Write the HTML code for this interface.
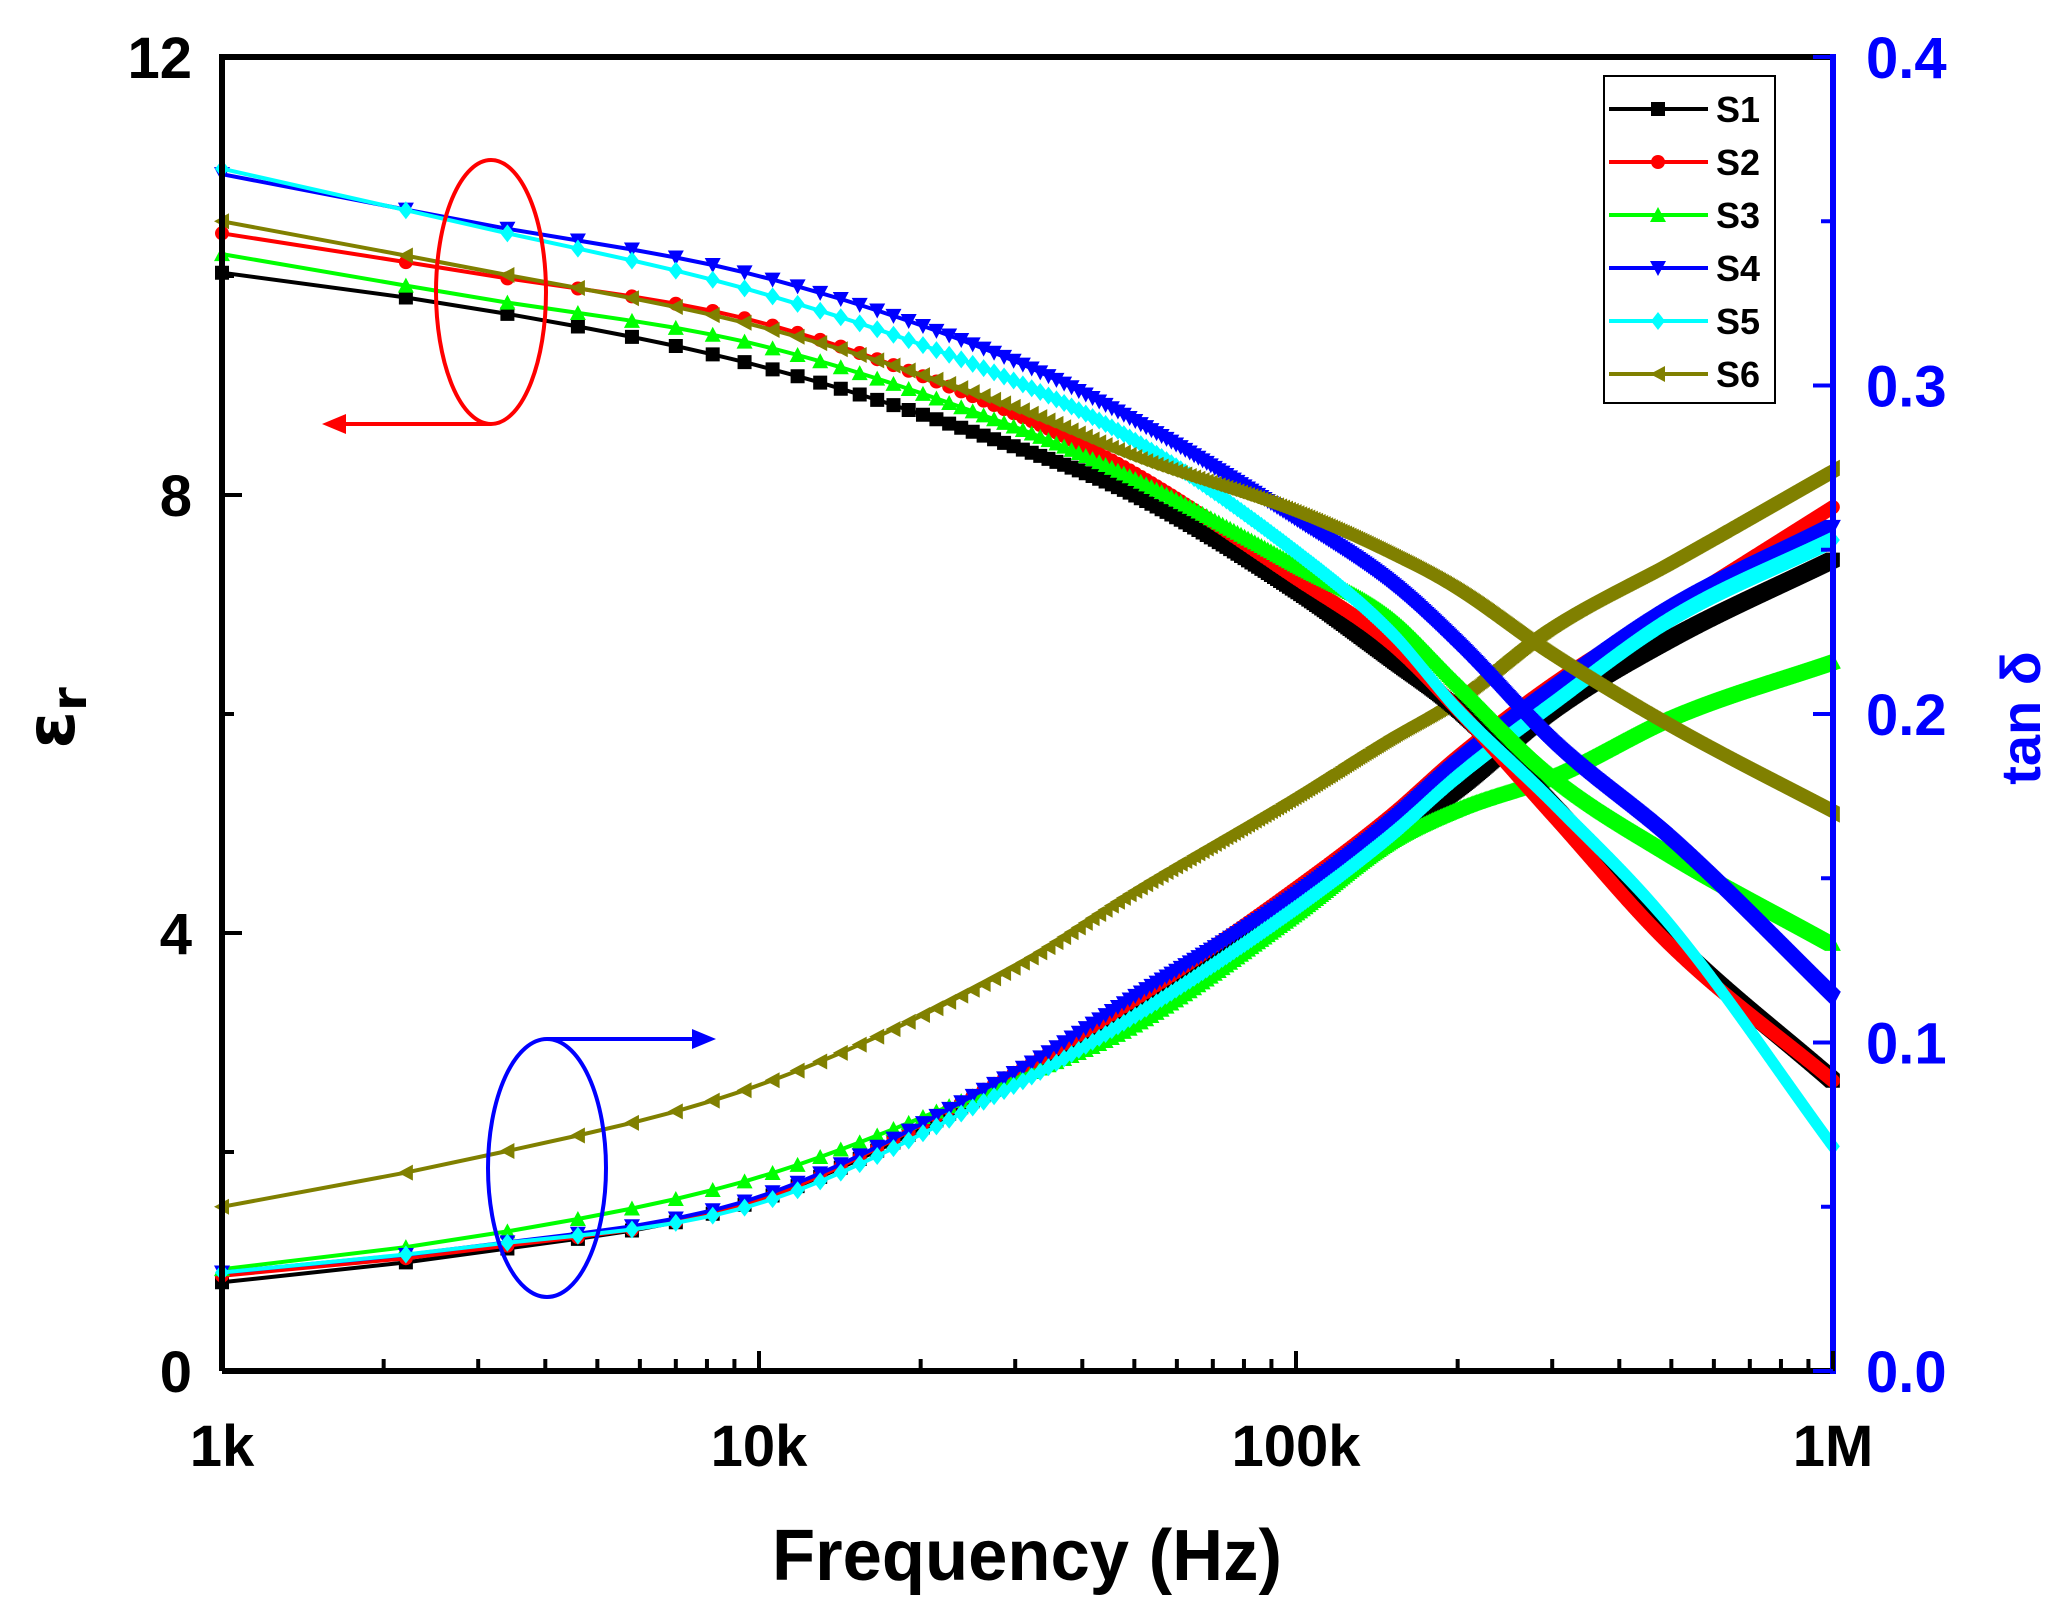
<!DOCTYPE html>
<html><head><meta charset="utf-8"><style>
html,body{margin:0;padding:0;background:#fff;}
svg{display:block;font-family:"Liberation Sans",Arial,sans-serif;font-weight:bold;}
</style></head><body>
<svg id="chart" width="2059" height="1615" viewBox="0 0 2059 1615" xmlns="http://www.w3.org/2000/svg">
<g id="series"></g>
<g id="axes"></g>
<g id="legend"></g>
<g>
 <ellipse cx="491" cy="292" rx="55" ry="132" fill="none" stroke="#f00" stroke-width="4"/>
 <polyline points="491,424 340,424" fill="none" stroke="#f00" stroke-width="4"/>
 <polygon points="322,424 346,414 346,434" fill="#f00"/>
 <ellipse cx="547" cy="1168" rx="59" ry="129" fill="none" stroke="#00f" stroke-width="4"/>
 <polyline points="547,1039 698,1039" fill="none" stroke="#00f" stroke-width="4"/>
 <polygon points="716,1039 692,1029 692,1049" fill="#00f"/>
</g>
<text x="1027" y="1580" font-size="72" text-anchor="middle" textLength="510" lengthAdjust="spacingAndGlyphs">Frequency (Hz)</text>
<text transform="translate(74,718) rotate(-90)" font-size="68" text-anchor="middle" font-family="'DejaVu Sans',sans-serif">ε<tspan font-size="48" dy="12">r</tspan></text>
<text transform="translate(2040,718) rotate(-90)" font-size="56" text-anchor="middle" fill="#00f">tan δ</text>
</svg>
<script>
const freqs = [1e3, 3e3, 1e4, 3e4, 5e4, 1e5, 1.5e5, 2e5, 3e5, 5e5, 1e6];
const epsS1 = [10.03, 9.7, 9.18, 8.44, 8.0, 7.12, 6.5, 6.04, 5.17, 3.94, 2.65];
const epsS2 = [10.39, 10.02, 9.58, 8.74, 8.2, 7.24, 6.65, 6.04, 5.08, 3.88, 2.65];
const epsS3 = [10.2, 9.8, 9.37, 8.62, 8.15, 7.36, 6.88, 6.28, 5.44, 4.72, 3.9];
const epsS4 = [10.93, 10.48, 10.0, 9.22, 8.68, 7.78, 7.2, 6.64, 5.74, 4.84, 3.4];
const epsS5 = [10.98, 10.45, 9.85, 9.04, 8.5, 7.48, 6.75, 6.04, 5.2, 4.06, 2.05];
const epsS6 = [10.5, 10.06, 9.54, 8.8, 8.35, 7.84, 7.45, 7.12, 6.52, 5.86, 5.08];
const tanS1 = [0.027, 0.036, 0.052, 0.089, 0.11, 0.145, 0.163, 0.177, 0.201, 0.223, 0.247];
const tanS2 = [0.029, 0.037, 0.052, 0.091, 0.113, 0.147, 0.169, 0.187, 0.209, 0.232, 0.263];
const tanS3 = [0.031, 0.041, 0.059, 0.089, 0.105, 0.139, 0.161, 0.171, 0.181, 0.199, 0.216];
const tanS4 = [0.030, 0.038, 0.053, 0.091, 0.114, 0.145, 0.167, 0.185, 0.207, 0.232, 0.257];
const tanS5 = [0.030, 0.038, 0.051, 0.087, 0.108, 0.141, 0.163, 0.181, 0.203, 0.229, 0.253];
const tanS6 = [0.050, 0.065, 0.087, 0.123, 0.146, 0.175, 0.193, 0.205, 0.227, 0.247, 0.275];
const seriesNames = ['S1','S2','S3','S4','S5','S6'];
const seriesColors = ['#000','#f00','#0f0','#00f','#0ff','#808000'];
const xTickLabels = ['1k','10k','100k','1M'];
const yTickLabels = ['0','4','8','12'];
const y2TickLabels = ['0.0','0.1','0.2','0.3','0.4'];

const X0=222,X1=1833,Y0=57,Y1=1371;
const NS='http://www.w3.org/2000/svg';
function xs(f){return X0+(Math.log10(f)-3)/3*(X1-X0);}
function ys(v){return Y1-v/12*(Y1-Y0);}
function y2s(v){return Y1-v/0.4*(Y1-Y0);}
function mk(tag,attrs,parent){const e=document.createElementNS(NS,tag);for(const k in attrs)e.setAttribute(k,attrs[k]);parent.appendChild(e);return e;}
// monotone cubic (Fritsch-Carlson) in log-frequency
function makeInterp(arr){
 const xv=freqs.map(f=>Math.log10(f)),n=xv.length,d=[],m=[];
 for(let i=0;i<n-1;i++)d.push((arr[i+1]-arr[i])/(xv[i+1]-xv[i]));
 m[0]=d[0];m[n-1]=d[n-2];
 for(let i=1;i<n-1;i++){m[i]=(d[i-1]*d[i]<=0)?0:(d[i-1]+d[i])/2;}
 for(let i=0;i<n-1;i++){if(d[i]===0){m[i]=m[i+1]=0;continue;}const a=m[i]/d[i],b=m[i+1]/d[i],s=a*a+b*b;if(s>9){const t=3/Math.sqrt(s);m[i]=t*a*d[i];m[i+1]=t*b*d[i];}}
 return function(f){const l=Math.log10(f);let i=0;while(i<n-2&&l>xv[i+1])i++;
  const h=xv[i+1]-xv[i],t=(l-xv[i])/h,t2=t*t,t3=t2*t;
  return (2*t3-3*t2+1)*arr[i]+(t3-2*t2+t)*h*m[i]+(-2*t3+3*t2)*arr[i+1]+(t3-t2)*h*m[i+1];};
}
function markerPath(type,x,y){const s=7;
 switch(type){
 case 0:return `M${x-s},${y-s}h${2*s}v${2*s}h${-2*s}Z`;
 case 1:return `M${x-s},${y}a${s},${s} 0 1,0 ${2*s},0a${s},${s} 0 1,0 ${-2*s},0Z`;
 case 2:return `M${x},${y-s-1}L${x+s+1},${y+s}L${x-s-1},${y+s}Z`;
 case 3:return `M${x},${y+s+1}L${x+s+1},${y-s}L${x-s-1},${y-s}Z`;
 case 4:return `M${x},${y-s-2}L${x+s},${y}L${x},${y+s+2}L${x-s},${y}Z`;
 default:return `M${x-s-1},${y}L${x+s},${y-s-1}L${x+s},${y+s+1}Z`;}}
const sg=document.getElementById('series');
const epsAll=[epsS1,epsS2,epsS3,epsS4,epsS5,epsS6];
const tanAll=[tanS1,tanS2,tanS3,tanS4,tanS5,tanS6];
const sampleF=[];for(let f=1000;f<=1e6;f+=1200)sampleF.push(f);
function drawSeries(arr,scale,idx,kind){
 const fn=makeInterp(arr);
 const g=mk('g',{},sg);
 
 
 const pts=sampleF.map(f=>xs(f).toFixed(1)+','+scale(fn(f)).toFixed(1)).join(' ');
 const line=mk('polyline',{points:pts,fill:'none',stroke:seriesColors[idx],'stroke-width':4},g);
 
 
 let d='';
 sampleF.forEach(f=>{d+=markerPath(idx,xs(f),scale(fn(f)));});
 const m=mk('path',{d:d,fill:seriesColors[idx]},g);
 
 
}
for(let i=0;i<6;i++){drawSeries(tanAll[i],y2s,i,'tan');}
for(let i=0;i<6;i++){drawSeries(epsAll[i],ys,i,'eps');}

const ag=document.getElementById('axes');
let r;
r=mk('path',{d:`M${X0},${Y1}V${Y0}H${X1}`,fill:'none',stroke:'#000','stroke-width':6},ag);

r=mk('path',{d:`M${X0},${Y1}H${X1}`,fill:'none',stroke:'#000','stroke-width':6},ag);

r=mk('path',{d:`M${X1},${Y0-3}V${Y1+3}`,fill:'none',stroke:'#00f','stroke-width':6},ag);

let td='';
for(let d=3;d<6;d++){for(let k=2;k<10;k++){const x=xs(k*Math.pow(10,d));td+=`M${x},${Y1}v-12`;}}
for(let d=3;d<=6;d++){const x=xs(Math.pow(10,d));td+=`M${x},${Y1}v-20`;}
for(let v=0;v<=12;v+=2){td+=`M${X0},${ys(v)}h${v%4===0?20:12}`;}
r=mk('path',{d:td,stroke:'#000','stroke-width':4,fill:'none'},ag);

let t2='';
for(let i=0;i<=8;i++){t2+=`M${X1},${y2s(i*0.05)}h${i%2===0?-20:-12}`;}
r=mk('path',{d:t2,stroke:'#00f','stroke-width':4,fill:'none'},ag);

xTickLabels.forEach((s,i)=>{const t=mk('text',{x:xs(Math.pow(10,3+i)),y:1466,'font-size':58,'text-anchor':'middle'},ag);t.textContent=s;
 });
yTickLabels.forEach((s,i)=>{const t=mk('text',{x:192,y:ys(i*4)+21,'font-size':58,'text-anchor':'end'},ag);t.textContent=s;
 });
y2TickLabels.forEach((s,i)=>{const t=mk('text',{x:1866,y:y2s(i*0.1)+21,'font-size':58,fill:'#00f'},ag);t.textContent=s;
 });

const lg=document.getElementById('legend');
r=mk('rect',{x:1604,y:76,width:171,height:327,fill:'#fff',stroke:'#000','stroke-width':2},lg);

seriesNames.forEach((n,i)=>{const y=109+i*53;
 const g=mk('g',{},lg);
 
 
 mk('line',{x1:1609,x2:1708,y1:y,y2:y,stroke:seriesColors[i],'stroke-width':4},g);
 mk('path',{d:markerPath(i,1658,y),fill:seriesColors[i]},g);
 const t=mk('text',{x:1716,y:y+13,'font-size':36},g);t.textContent=n;});
</script>
</body></html>
